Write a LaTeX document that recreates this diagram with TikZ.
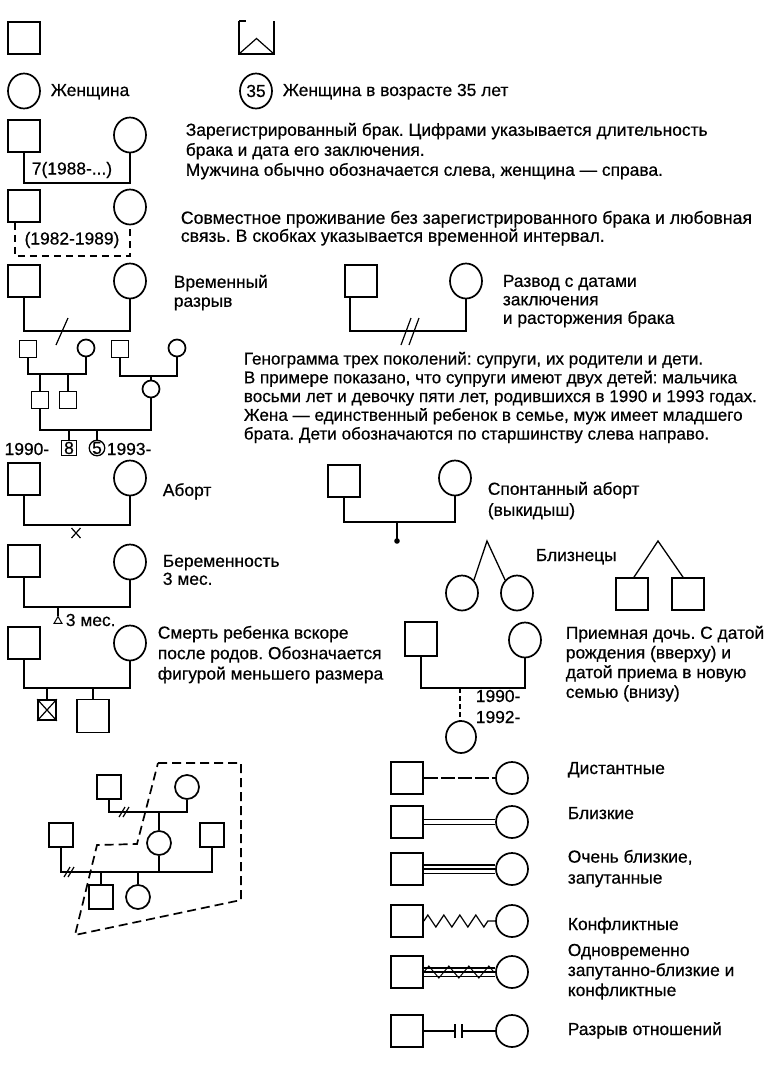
\documentclass[tikz,border=0pt]{standalone}
\usepackage{fontspec}
\setmainfont[FakeBold=0.5]{Liberation Sans}
\usetikzlibrary{shapes.geometric,decorations.pathmorphing,calc}
\newcommand\tf[1]{\fontsize{17.4}{#1}\selectfont\frenchspacing}
\newcommand\tfs[2]{\fontsize{#1}{#2}\selectfont\frenchspacing}
\begin{document}
\begin{tikzpicture}[x=1pt,y=-1pt,line width=1.7pt,
  sq/.style={draw,rectangle,minimum width=32pt,minimum height=32pt,inner sep=0pt},
  ci/.style={draw,ellipse,minimum width=32pt,minimum height=35pt,inner sep=0pt},
  rc/.style={draw,circle,minimum size=32pt,inner sep=0pt},
  ssq/.style={draw,rectangle,minimum size=17pt,inner sep=0pt},
  sci/.style={draw,circle,minimum size=17pt,inner sep=0pt},
  msq/.style={draw,rectangle,minimum size=24pt,inner sep=0pt},
  mci/.style={draw,circle,minimum size=24pt,inner sep=0pt},
  lbl/.style={anchor=base west,inner sep=0pt,font=\tf{20}},
  lble/.style={anchor=base east,inner sep=0pt,font=\tf{20}},
  para/.style={anchor=north west,inner sep=0pt,align=left},
  tick/.style={line width=1.2pt},
  bdash/.style={dash pattern=on 7pt off 5pt},
]
\useasboundingbox (0,0) rectangle (767,1069);

% ---- row 1
\node[sq] (man) at (24,38) {};
\node[minimum width=33pt,minimum height=31pt,inner sep=0pt] (unk) at (256.5,37.5) {};
\draw (unk.north west) -- (unk.south west) -- (unk.south east) -- (unk.north east);
\draw (unk.north west) -- ++(7,0);
\draw[line width=1.2pt] (unk.south west) -- ([yshift=-1pt]unk.center) -- (unk.south east);
\node[ci] (wom) at (24,91) {};
\node[lbl] (womt) at (50,96) {Женщина};
\node[ci,font=\tf{20}] (w35) at (256,91) {35};
\node[lbl] (w35t) at (282,96) {Женщина в возрасте 35 лет};

% ---- marriage
\node[sq] (m1) at (24,136) {};
\node[ci] (w1) at (130,135) {};
\coordinate (m1b) at (72,183);
\draw (m1.south) |- (m1b) -| (w1.south);
\node[font=\tf{20},inner sep=0pt] (m1d) at (72,170) {7(1988-...)};
\node[para,font=\tf{20}] (m1t) at (185,122) {Зарегистрированный брак. Цифрами указывается длительность\\брака и дата его заключения.\\Мужчина обычно обозначается слева, женщина — справа.};

% ---- cohabitation
\node[sq] (m2) at (24,206) {};
\node[ci] (w2) at (130,207) {};
\coordinate (m2b) at (72,256);
\draw[bdash] ([xshift=-9pt]m2.south) |- (m2b) -| (w2.south);
\node[font=\tf{20},inner sep=0pt] (m2d) at (72,240) {(1982-1989)};
\node[para,font=\tfs{17.7}{18}] (m2t) at (180,210) {Совместное проживание без зарегистрированного брака и любовная\\связь. В скобках указывается временной интервал.};

% ---- temporary break
\node[sq] (m3) at (24,281) {};
\node[ci] (w3) at (130,281) {};
\coordinate (m3b) at (62,331);
\draw (m3.south) |- (m3b) -| (w3.south);
\draw[tick] ($(m3b)+(-6,14)$) -- ($(m3b)+(6,-13)$);
\node[para,font=\tf{19}] (m3t) at (173,274) {Временный\\разрыв};

% ---- divorce
\node[sq] (m4) at (361,281) {};
\node[ci] (w4) at (466,281) {};
\coordinate (m4b) at (410,331);
\draw ([xshift=-11pt]m4.south) |- (m4b) -| (w4.south);
\draw[tick] ($(m4b)+(-9,14)$) -- ($(m4b)+(1,-13)$);
\draw[tick] ($(m4b)+(-1,14)$) -- ($(m4b)+(9,-13)$);
\node[para,font=\tf{18.5}] (m4t) at (502,274) {Развод с датами\\заключения\\и расторжения брака};

% ---- three generations
\node[ssq] (gf1) at (28,349) {};
\node[sci] (gm1) at (86,348) {};
\node[ssq] (gf2) at (120,349) {};
\node[sci] (gm2) at (177,348) {};
\coordinate (g1) at (54,374);
\draw (gf1.south) |- (g1) -| (gm1.south);
\coordinate (g2) at (151,376);
\draw (gf2.south) |- (g2) -| (gm2.south);
\node[ssq] (hus) at (40,400) {};
\node[ssq] (bro) at (68,400) {};
\draw (hus.north) -- (hus.north |- g1);
\draw (bro.north) -- (bro.north |- g1);
\node[sci] (wif) at (151,389) {};
\draw (wif.north) -- (g2);
\coordinate (g3) at (97,430);
\draw (hus.south) |- (g3) -| (wif.south);
\node[draw,rectangle,minimum size=15pt,inner sep=0pt,line width=1.3pt,font=\tf{14}] (son) at (69,448) {8};
\node[draw,circle,minimum size=15pt,inner sep=0pt,line width=1.3pt,font=\tf{14}] (dau) at (97,448) {5};
\draw (son.north) -- (son.north |- g3);
\draw (dau.north) -- (g3);
\node[lble] (sy) at (50,455) {1990-};
\node[lbl] (dy) at (106,455) {1993-};
\node[para,font=\tfs{17.1}{18.75}] (g3t) at (243,351) {Генограмма трех поколений: супруги, их родители и дети.\\В примере показано, что супруги имеют двух детей: мальчика\\восьми лет и девочку пяти лет, родившихся в 1990 и 1993 годах.\\Жена — единственный ребенок в семье, муж имеет младшего\\брата. Дети обозначаются по старшинству слева направо.};

% ---- abortion
\node[sq] (m5) at (24,479) {};
\node[ci] (w5) at (130,478) {};
\coordinate (m5b) at (76,525);
\draw (m5.south) |- (m5b) -| (w5.south);
\draw[tick] ($(m5b)+(-4.5,3)$) -- ($(m5b)+(4.5,13)$);
\draw[tick] ($(m5b)+(4.5,3)$) -- ($(m5b)+(-4.5,13)$);
\node[lbl] (m5t) at (162,496) {Аборт};

% ---- spontaneous abortion
\node[sq] (m6) at (344,481) {};
\node[ci] (w6) at (455,478) {};
\coordinate (m6b) at (397,522);
\draw (m6.south) |- (m6b) -| (w6.south);
\coordinate (m6d) at (397,541);
\draw (m6b) -- (m6d);
\fill (m6d) circle (2.8pt);
\node[para,font=\tf{21}] (m6t) at (487,481) {Спонтанный аборт\\(выкидыш)};

% ---- pregnancy
\node[sq] (m7) at (24,561) {};
\node[ci] (w7) at (130,562) {};
\coordinate (m7b) at (58,607);
\draw (m7.south) |- (m7b) -| (w7.south);
\node[draw,regular polygon,regular polygon sides=3,minimum size=9pt,inner sep=0pt,line width=1pt] (preg) at (58,621) {};
\draw (m7b) -- (preg.corner 1);
\node[lbl] (m7d) at (65,626) {3 мес.};
\node[para,font=\tf{18}] (m7t) at (162,554) {Беременность\\3 мес.};

% ---- twins
\coordinate (ta) at (487,541);
\node[ci] (t1) at (462,593) {};
\node[ci] (t2) at (517,593) {};
\draw[line width=1.3pt] (t1.north east) -- (ta) -- (t2.north west);
\coordinate (tb) at (658,541);
\node[sq] (t3) at (632,594) {};
\node[sq] (t4) at (688,594) {};
\draw[line width=1.3pt] ([xshift=2pt]t3.north) -- (tb) -- ([xshift=-5pt]t4.north);
\node[lbl] (twt) at (535,561) {Близнецы};

% ---- child death
\node[sq] (m8) at (24,643) {};
\node[ci] (w8) at (130,643) {};
\coordinate (m8b) at (70,688);
\draw (m8.south) |- (m8b) -| (w8.south);
\node[draw,minimum width=18pt,minimum height=20pt,inner sep=0pt] (dc) at (47,710) {};
\draw[tick] (dc.north west) -- (dc.south east) (dc.north east) -- (dc.south west);
\draw (dc.north) -- (dc.north |- m8b);
\node[sq,minimum height=33pt] (lc) at (93,716) {};
\draw (lc.north) -- (lc.north |- m8b);
\node[para,font=\tf{20.5}] (m8t) at (157,625) {Смерть ребенка вскоре\\после родов. Обозначается\\фигурой меньшего размера};

% ---- adoption
\node[sq,minimum height=34pt] (m9) at (421,639) {};
\node[ci] (w9) at (525,640) {};
\coordinate (m9b) at (460,688);
\draw (m9.south) |- (m9b) -| (w9.south);
\node[ci,minimum width=30pt,minimum height=32pt] (ad) at (461,737) {};
\draw[dash pattern=on 5pt off 3pt] (m9b) -- (m9b |- ad.north);
\node[lbl] (ad1) at (475,702) {1990-};
\node[lbl] (ad2) at (475,723) {1992-};
\node[para,font=\tf{19.7}] (m9t) at (565,625) {Приемная дочь. С датой\\рождения (вверху) и\\датой приема в новую\\семью (внизу)};

% ---- bottom-left genogram
\node[msq] (b1) at (109,787) {};
\node[mci] (b2) at (187,787) {};
\coordinate (bc1) at (159,812);
\draw (b1.south) |- (bc1) -| (b2.south);
\draw[tick] ($(bc1)+(-40,5)$) -- ($(bc1)+(-34,-5)$);
\draw[tick] ($(bc1)+(-36,5)$) -- ($(bc1)+(-30,-5)$);
\node[mci] (b3) at (159,843) {};
\draw (bc1) -- (b3.north);
\node[msq] (b4) at (61,835) {};
\node[msq] (b5) at (212,835) {};
\coordinate (bc2) at (159,872);
\draw (b4.south) |- (bc2) -| (b5.south);
\draw (b3.south) -- (bc2);
\draw[tick] ($(bc2)+(-95,5)$) -- ($(bc2)+(-89,-5)$);
\draw[tick] ($(bc2)+(-91,5)$) -- ($(bc2)+(-85,-5)$);
\node[msq] (b6) at (101,897) {};
\node[mci] (b7) at (138,897) {};
\draw (b6.north) -- (b6.north |- bc2);
\draw (b7.north) -- (b7.north |- bc2);
\draw[dash pattern=on 9pt off 5pt] (158,763) -- (241,763) -- (241,900) -- (75,935) -- (97,845) -- (137,844) -- cycle;

% ---- relationships
\node[sq] (r1a) at (407,778) {};
\node[rc] (r1b) at (512,778) {};
\draw[dash pattern=on 14pt off 3pt,line width=1.3pt] (r1a.east) -- (r1b.west);
\node[lbl] (r1t) at (567,774) {Дистантные};

\node[sq] (r2a) at (407,822) {};
\node[rc] (r2b) at (512,822) {};
\draw[double,double distance=4pt,line width=1.2pt] (r2a.east) -- (r2b.west);
\node[lbl] (r2t) at (567,819) {Близкие};

\node[sq] (r3a) at (407,869) {};
\node[rc] (r3b) at (512,869) {};
\draw[double,double distance=7pt,line width=1.2pt] (r3a.east) -- (r3b.west);
\draw[line width=1.2pt] (r3a.east) -- (r3b.west);
\node[para,font=\tf{21}] (r3t) at (567,849) {Очень близкие,\\запутанные};

\node[sq] (r4a) at (407,921) {};
\node[rc] (r4b) at (512,921) {};
\draw[line width=1.2pt,decorate,decoration={zigzag,segment length=16pt,amplitude=6pt}] (r4a.east) -- (r4b.west);
\node[lbl] (r4t) at (567,930) {Конфликтные};

\node[sq] (r5a) at (407,972) {};
\node[rc] (r5b) at (512,972) {};
\draw[double,double distance=7pt,line width=1.2pt] (r5a.east) -- (r5b.west);
\draw[line width=1.2pt] (r5a.east) -- (r5b.west);
\draw[line width=1pt,decorate,decoration={zigzag,segment length=20pt,amplitude=6pt}] (r5a.east) -- (r5b.west);
\node[para,font=\tf{20}] (r5t) at (567,943) {Одновременно\\запутанно-близкие и\\конфликтные};

\node[sq] (r6a) at (407,1031) {};
\node[rc] (r6b) at (512,1031) {};
\coordinate (cut) at (458,1031);
\draw (r6a.east) -- ([xshift=-3pt]cut);
\draw ([xshift=4pt]cut) -- (r6b.west);
\draw[line width=2pt] ([xshift=-3pt,yshift=7pt]cut) -- ([xshift=-3pt,yshift=-7pt]cut);
\draw[line width=2pt] ([xshift=4pt,yshift=7pt]cut) -- ([xshift=4pt,yshift=-7pt]cut);
\node[lbl] (r6t) at (567,1035) {Разрыв отношений};
\end{tikzpicture}
\end{document}
